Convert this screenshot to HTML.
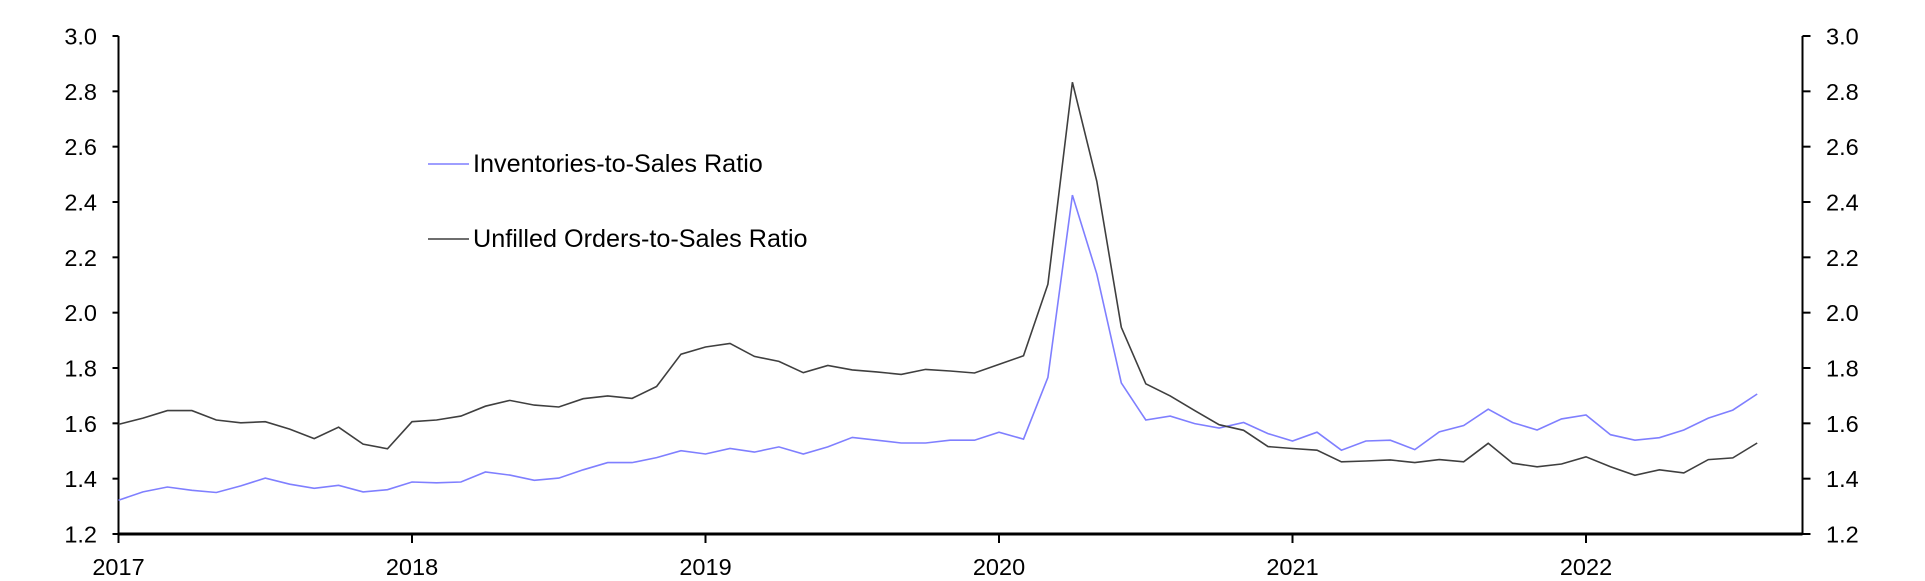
<!DOCTYPE html>
<html><head><meta charset="utf-8"><style>
html,body{margin:0;padding:0;background:#fff;}
svg{display:block;font-family:"Liberation Sans",Arial,sans-serif;}
</style></head><body>
<svg id="c" width="1925" height="581" viewBox="0 0 1925 581" xmlns="http://www.w3.org/2000/svg">
<g id="ax" stroke="#000" fill="none"></g>
<g id="lab" font-size="23.5" fill="#000"></g>
<polyline id="blue" fill="none" stroke="#7f7fff" stroke-width="1.6"/>
<polyline id="dark" fill="none" stroke="#3f3f3f" stroke-width="1.6"/>
<line x1="428" y1="164" x2="469" y2="164" stroke="#7f7fff" stroke-width="1.6"/>
<text x="473" y="172" font-size="25.2">Inventories-to-Sales Ratio</text>
<line x1="428" y1="239" x2="469" y2="239" stroke="#3f3f3f" stroke-width="1.6"/>
<text x="473" y="247" font-size="25.2">Unfilled Orders-to-Sales Ratio</text>
</svg>
<script>
var L=118.5,R=1802.5,T=36,B=534,M=293.5/12;
function Y(v){return B-(v-1.2)/1.8*(B-T);}
var ns="http://www.w3.org/2000/svg";
function el(p,n,a,t){var e=document.createElementNS(ns,n);for(var k in a)e.setAttribute(k,a[k]);if(t)e.textContent=t;p.appendChild(e);return e;}
var ax=document.getElementById('ax'),lab=document.getElementById('lab');
el(ax,'line',{x1:L,y1:T,x2:L,y2:B,'stroke-width':2});
el(ax,'line',{x1:R,y1:T,x2:R,y2:B,'stroke-width':2});
el(ax,'line',{x1:L,y1:B,x2:R,y2:B,'stroke-width':3});
for(var i=0;i<=9;i++){var v=1.2+i*0.2,y=Y(v);
el(ax,'line',{x1:L-6,y1:y,x2:L,y2:y,'stroke-width':2});
el(ax,'line',{x1:R,y1:y,x2:R+8,y2:y,'stroke-width':2});
el(lab,'text',{x:97,y:y+8.5,'text-anchor':'end'},v.toFixed(1));
el(lab,'text',{x:1826,y:y+8.5},v.toFixed(1));}
for(var j=0;j<6;j++){var x=L+j*293.5;
el(ax,'line',{x1:x,y1:B,x2:x,y2:B+9,'stroke-width':2});
el(lab,'text',{x:x,y:575,'text-anchor':'middle'},String(2017+j));}
var b=[1.322,1.352,1.37,1.358,1.35,1.374,1.402,1.38,1.365,1.376,1.352,1.36,1.388,1.385,1.388,1.424,1.413,1.394,1.402,1.432,1.458,1.458,1.476,1.501,1.489,1.509,1.496,1.515,1.489,1.515,1.549,1.539,1.529,1.529,1.539,1.539,1.568,1.543,1.766,2.425,2.14,1.746,1.612,1.626,1.599,1.583,1.603,1.563,1.536,1.568,1.503,1.536,1.539,1.505,1.569,1.592,1.651,1.603,1.576,1.616,1.63,1.559,1.539,1.548,1.576,1.619,1.648,1.706];
var d=[1.596,1.619,1.646,1.646,1.612,1.602,1.606,1.579,1.545,1.586,1.525,1.508,1.606,1.612,1.626,1.662,1.683,1.666,1.659,1.689,1.699,1.69,1.733,1.85,1.876,1.889,1.842,1.824,1.783,1.809,1.793,1.786,1.777,1.795,1.789,1.782,1.813,1.844,2.103,2.833,2.475,1.947,1.743,1.699,1.646,1.595,1.575,1.516,1.509,1.503,1.461,1.464,1.468,1.458,1.469,1.461,1.528,1.456,1.443,1.453,1.479,1.443,1.412,1.432,1.421,1.469,1.475,1.529];
function pts(a){return a.map(function(v,i){return (L+i*M).toFixed(1)+','+Y(v).toFixed(1);}).join(' ');}
document.getElementById('blue').setAttribute('points',pts(b));
document.getElementById('dark').setAttribute('points',pts(d));
</script>
</body></html>
